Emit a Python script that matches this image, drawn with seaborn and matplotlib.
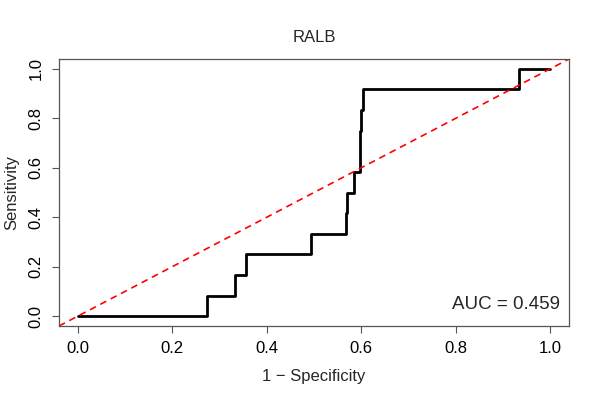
import pandas as pd
import seaborn as sns
import matplotlib.pyplot as plt

# ROC curve points (1 - specificity, sensitivity)
fpr = [0.0, 0.273, 0.332, 0.357, 0.494, 0.567, 0.570, 0.585, 0.597, 0.600, 0.603, 0.934, 1.0]
tpr = [0.0, 1/12, 2/12, 3/12, 4/12, 5/12, 6/12, 7/12, 9/12, 10/12, 11/12, 1.0, 1.0]
auc_label = 'AUC = 0.459'
ticks = [0.0, 0.2, 0.4, 0.6, 0.8, 1.0]
tick_labels = ['0.0', '0.2', '0.4', '0.6', '0.8', '1.0']

roc = pd.DataFrame({'fpr': fpr, 'tpr': tpr})

sns.set_style('white')
plt.rcParams['font.family'] = ['Liberation Sans', 'DejaVu Sans']

fig = plt.figure(figsize=(6, 4), dpi=100)
ax = fig.add_axes([0.0983, 0.185, 0.85, 0.6675])

sns.lineplot(data=roc, x='fpr', y='tpr', estimator=None, sort=False,
             drawstyle='steps-post', color='black', linewidth=2.0, ax=ax)
ax.axline((0, 0), slope=1, color='red', linestyle=(0, (4, 3)), linewidth=1.2)

ax.set_xlim(-0.04, 1.04)
ax.set_ylim(-0.04, 1.04)
ax.set_xticks(ticks)
ax.set_xticklabels(tick_labels)
ax.set_yticks(ticks)
ax.set_yticklabels(tick_labels, rotation=90, va='center')
ax.tick_params(axis='both', direction='out', length=5, width=0.8,
               color='#555555', labelcolor='black', labelsize=12, pad=6,
               left=True, bottom=True)

for s in ax.spines.values():
    s.set_color('#555555')
    s.set_linewidth(0.9)

ax.set_title('RALB', fontsize=12, pad=12)
ax.set_xlabel('1 \u2212 Specificity', fontsize=12, labelpad=9)
ax.set_ylabel('Sensitivity', fontsize=12, labelpad=7)
ax.text(1.021, 0.012, auc_label, ha='right', va='bottom', fontsize=13.5)

fig.savefig('out.png', dpi=100)
